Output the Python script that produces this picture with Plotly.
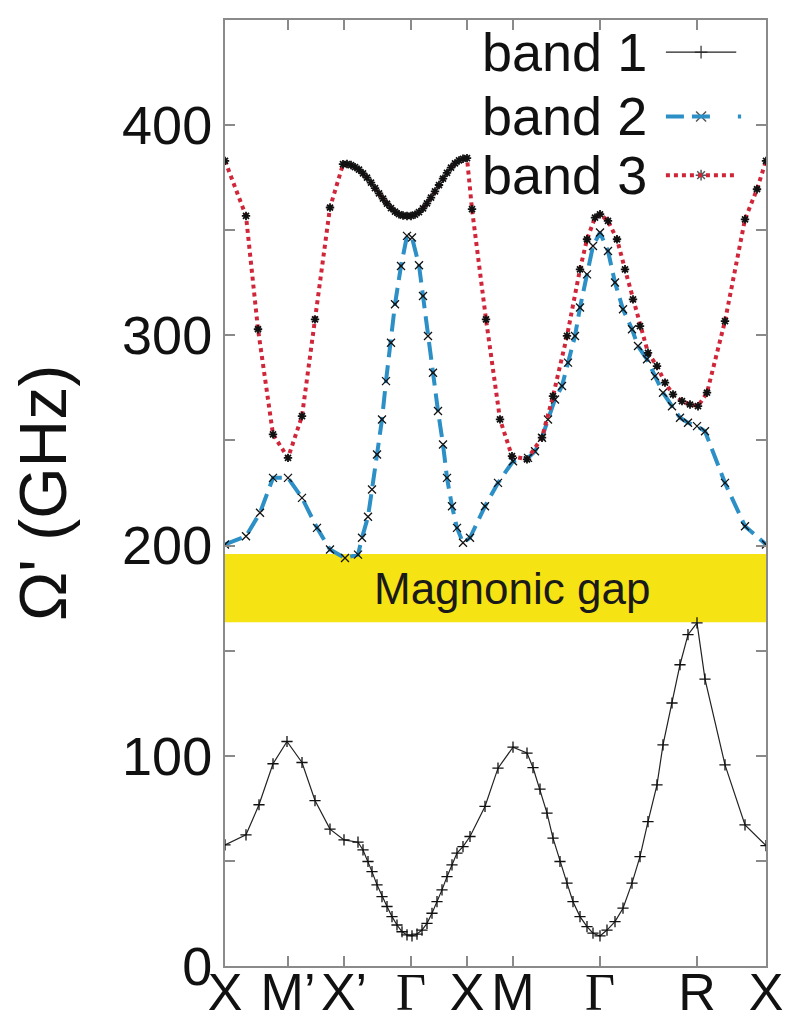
import plotly.graph_objects as go

# ---- data ----
k_ticks = [0.0, 0.63, 1.19, 1.86, 2.42, 2.88, 3.75, 4.72, 5.41]
k_labels = ["X", "M’", "X’", "<span style=\"font-family:Liberation Serif\">Γ</span>",
            "X", "M", "<span style=\"font-family:Liberation Serif\">Γ</span>", "R", "X"]

y_ticks = [0, 50, 100, 150, 200, 250, 300, 350, 400, 450]
y_labels = ["0", "", "100", "", "200", "", "300", "", "400", ""]

band1_k = [0.00, 0.21, 0.34, 0.48, 0.62, 0.77, 0.90, 1.05, 1.19, 1.33, 1.38, 1.43, 1.47, 1.52,
           1.57, 1.62, 1.67, 1.72, 1.77, 1.82, 1.87, 1.92, 1.97, 2.02, 2.07, 2.12, 2.17, 2.22,
           2.27, 2.32, 2.38, 2.45, 2.60, 2.73, 2.88, 3.02, 3.08, 3.15, 3.22, 3.28, 3.35, 3.42,
           3.48, 3.55, 3.62, 3.68, 3.75, 3.82, 3.90, 3.98, 4.07, 4.15, 4.23, 4.32, 4.38, 4.47,
           4.55, 4.63, 4.72, 4.80, 5.00, 5.20, 5.41]
band1_w = [57.6, 62.4, 76.7, 96.2, 106.8, 96.8, 78.7, 65.1, 60.0, 58.9, 55.2, 49.7, 44.9, 38.6,
           33.0, 28.3, 23.5, 19.5, 16.3, 14.8, 14.3, 15.2, 17.1, 20.3, 25.1, 30.6, 36.2, 42.5,
           48.1, 53.7, 56.8, 61.6, 75.9, 94.1, 104.1, 101.3, 94.4, 84.1, 72.7, 60.8, 49.7, 39.4,
           30.6, 23.5, 18.7, 15.6, 14.3, 17.1, 21.1, 27.5, 39.4, 52.0, 68.7, 86.2, 105.2, 125.1,
           143.3, 157.6, 163.2, 136.5, 95.7, 67.1, 57.3]

band2_k = [0.00, 0.21, 0.35, 0.48, 0.63, 0.77, 0.92, 1.05, 1.20, 1.33, 1.37, 1.43, 1.47, 1.52,
           1.57, 1.61, 1.66, 1.70, 1.76, 1.82, 1.87, 1.94, 1.98, 2.03, 2.08, 2.13, 2.18, 2.22,
           2.27, 2.32, 2.38, 2.45, 2.60, 2.73, 2.88, 3.03, 3.10, 3.17, 3.23, 3.30, 3.37, 3.43,
           3.50, 3.55, 3.62, 3.68, 3.75, 3.83, 3.90, 3.98, 4.07, 4.13, 4.22, 4.30, 4.38, 4.47,
           4.55, 4.63, 4.72, 4.80, 5.00, 5.20, 5.41]
band2_w = [200.5, 204.4, 215.6, 232.2, 232.2, 222.7, 208.4, 198.1, 194.1, 195.7, 203.7, 213.7,
           226.7, 243.3, 260.0, 278.2, 296.5, 314.8, 333.0, 347.3, 346.5, 333.3, 318.7, 299.7,
           282.2, 264.0, 248.1, 232.2, 218.7, 208.4, 201.3, 203.7, 218.7, 229.8, 240.1, 241.7,
           244.9, 251.3, 260.0, 269.5, 275.9, 287.0, 299.7, 313.2, 329.0, 342.5, 348.9, 340.1,
           325.1, 312.4, 302.9, 294.9, 288.6, 280.6, 272.7, 266.3, 260.8, 258.4, 256.8, 254.4,
           229.8, 209.2, 200.5]

band3_k = [0.00, 0.21, 0.33, 0.48, 0.63, 0.77, 0.90, 1.05, 1.18,
           1.22, 1.26, 1.30, 1.34, 1.38, 1.42, 1.46, 1.50, 1.54, 1.58, 1.62, 1.66, 1.70, 1.74,
           1.78, 1.82, 1.86, 1.90, 1.94, 1.98, 2.02, 2.06, 2.10, 2.14, 2.18, 2.22, 2.26, 2.30,
           2.34, 2.38, 2.42,
           2.47, 2.61, 2.75, 2.87, 3.02, 3.17, 3.28, 3.42, 3.55, 3.62, 3.70, 3.75, 3.83, 3.92,
           4.00, 4.08, 4.15, 4.23, 4.32, 4.40, 4.48, 4.57, 4.65, 4.73, 4.82, 5.00, 5.20, 5.32,
           5.41]
band3_w = [383.0, 356.8, 302.9, 252.9, 241.7, 261.6, 307.6, 360.8, 381.4,
           381.5, 381.0, 380.0, 378.8, 377.0, 375.0, 372.6, 370.0, 367.5, 365.0, 362.6, 360.5,
           358.8, 357.6, 357.0, 356.8, 356.8, 357.4, 358.6, 360.4, 362.8, 365.5, 368.5, 371.5,
           374.5, 377.3, 379.8, 381.8, 383.2, 384.0, 384.3,
           360.0, 307.6, 260.0, 242.5, 241.0, 251.3, 271.1, 299.7, 331.4, 345.7, 356.0, 357.6,
           354.4, 345.7, 331.4, 317.1, 304.4, 291.7, 285.4, 277.5, 271.9, 268.7, 267.1, 266.3,
           272.7, 306.8, 355.2, 369.5, 383.0]

gap_low, gap_high = 163.5, 196.0
gap_label = "Magnonic gap"
series_names = ["band 1", "band 2", "band 3"]

# ---- styles ----
RED = "#d0263a"
BLUE = "#2c8fc6"
AX = "#8a8a8a"
SANS = "Liberation Sans, Arial, sans-serif"
RED_DASH = "4px,4px"

fig = go.Figure()

fig.add_trace(go.Scatter(
    x=band1_k, y=band1_w, mode="lines+markers", name=series_names[0],
    line=dict(color="#222222", width=1.2),
    marker=dict(symbol="cross-thin", size=8, line=dict(color="#111111", width=1.3)),
    showlegend=False))
fig.add_trace(go.Scatter(
    x=band2_k, y=band2_w, mode="lines", name=series_names[1],
    line=dict(color=BLUE, width=4, dash="18px,8px"), showlegend=False))
fig.add_trace(go.Scatter(
    x=band2_k, y=band2_w, mode="markers", name=series_names[1],
    marker=dict(symbol="x-thin", size=8, line=dict(color="#111111", width=1.3)),
    showlegend=False))
fig.add_trace(go.Scatter(
    x=band3_k, y=band3_w, mode="lines", name=series_names[2],
    line=dict(color=RED, width=4, dash=RED_DASH), showlegend=False))
fig.add_trace(go.Scatter(
    x=band3_k, y=band3_w, mode="markers", name=series_names[2],
    marker=dict(symbol="asterisk", size=7, line=dict(color="#111111", width=1.8)),
    showlegend=False))

# ---- custom gnuplot-style legend (text, then sample) ----
leg_y = [0.966, 0.898, 0.836]
leg_text_x = 0.783
leg_x0, leg_x1, leg_xm = 0.815, 0.945, 0.88
for i, name in enumerate(series_names):
    fig.add_annotation(x=leg_text_x, y=leg_y[i], xref="paper", yref="paper",
                       text=name, showarrow=False, xanchor="right", yanchor="middle",
                       font=dict(family=SANS, size=54, color="#111111"))
fig.add_shape(type="line", xref="paper", yref="paper", x0=leg_x0, x1=leg_x1,
              y0=leg_y[0], y1=leg_y[0], line=dict(color="#222222", width=1.2))
fig.add_shape(type="line", xref="paper", yref="paper", x0=leg_x0, x1=0.91,
              y0=leg_y[1], y1=leg_y[1], line=dict(color=BLUE, width=4, dash="18px,8px"))
fig.add_shape(type="line", xref="paper", yref="paper", x0=0.948, x1=0.954,
              y0=leg_y[1], y1=leg_y[1], line=dict(color=BLUE, width=4))
fig.add_shape(type="line", xref="paper", yref="paper", x0=leg_x0, x1=leg_x1,
              y0=leg_y[2], y1=leg_y[2], line=dict(color=RED, width=4, dash=RED_DASH))
fig.add_trace(go.Scatter(
    x=[leg_xm, leg_xm, leg_xm], y=leg_y, xaxis="x2", yaxis="y2", mode="markers",
    marker=dict(symbol=["cross-thin", "x-thin", "asterisk"], size=[9, 10, 9],
                line=dict(color="#111111", width=1.5)),
    showlegend=False, hoverinfo="skip"))

# ---- magnonic gap band ----
fig.add_shape(type="rect", xref="paper", yref="y", x0=0, x1=1, y0=gap_low, y1=gap_high,
              fillcolor="#f6e313", line=dict(width=0), layer="below")
fig.add_annotation(x=0.53, y=(gap_low + gap_high) / 2, xref="paper", yref="y",
                   text=gap_label, showarrow=False,
                   font=dict(family=SANS, size=44, color="#1a1a1a"))

fig.update_layout(
    width=787, height=1026,
    margin=dict(l=225, r=21, t=20, b=60),
    paper_bgcolor="white", plot_bgcolor="white",
    showlegend=False,
    xaxis=dict(range=[0, 5.41], tickmode="array", tickvals=k_ticks, ticktext=k_labels,
               ticks="inside", ticklen=10, tickwidth=1.5, tickcolor=AX,
               showline=True, linecolor=AX, linewidth=2, mirror="allticks",
               showgrid=False, zeroline=False, automargin=False,
               tickangle=0, ticklabelstandoff=-20,
               tickfont=dict(family=SANS, size=52, color="#111111")),
    yaxis=dict(range=[0, 450], tickmode="array", tickvals=y_ticks, ticktext=y_labels,
               ticks="inside", ticklen=10, tickwidth=1.5, tickcolor=AX,
               showline=True, linecolor=AX, linewidth=2, mirror="allticks",
               showgrid=False, zeroline=False, automargin=False,
               tickfont=dict(family=SANS, size=54, color="#111111"),
               title=dict(text="Ω' (GHz)", standoff=34,
                          font=dict(family=SANS, size=66, color="#111111"))),
    xaxis2=dict(range=[0, 1], overlaying="x", visible=False, fixedrange=True),
    yaxis2=dict(range=[0, 1], overlaying="y", visible=False, fixedrange=True),
)

fig.write_html("out.html", config={"displayModeBar": False},
               post_script="document.body.style.margin='0';document.body.style.overflow='hidden';")
